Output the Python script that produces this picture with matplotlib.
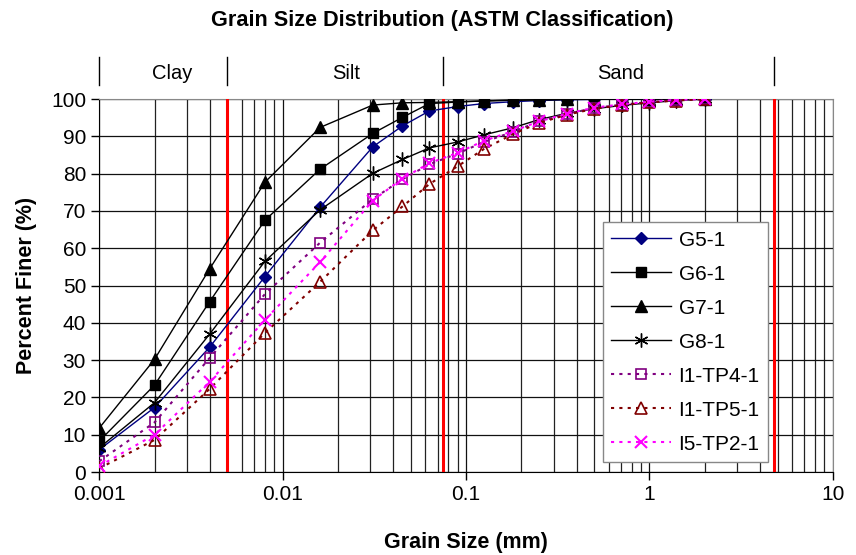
import matplotlib
matplotlib.use("Agg")
import matplotlib.pyplot as plt
from matplotlib.ticker import FixedLocator, LogLocator, NullFormatter
import matplotlib.transforms as mtransforms

plt.rcParams['font.family'] = ['Liberation Sans', 'DejaVu Sans']

# Grain sizes (mm)
sizes = [0.001, 0.002, 0.004, 0.008, 0.016, 0.031, 0.045, 0.063, 0.09,
         0.125, 0.18, 0.25, 0.355, 0.5, 0.71, 1.0, 1.4, 2.0]

# Percent finer for each sample
g5_1 = [6.0, 17.3, 33.5, 52.4, 71.0, 87.2, 92.8, 96.8, 98.0,
        98.8, 99.3, 99.6, 99.8, 99.9, 100, 100, 100, 100]
g6_1 = [8.3, 23.3, 45.7, 67.5, 81.2, 90.8, 95.1, 98.8, 99.2,
        99.5, 99.7, 99.8, 99.9, 100, 100, 100, 100, 100]
g7_1 = [11.8, 30.2, 54.5, 77.7, 92.4, 98.4, 99.0, 99.1, 99.3,
        99.5, 99.7, 99.8, 99.9, 100, 100, 100, 100, 100]
g8_1 = [6.5, 18.6, 37.0, 56.5, 70.3, 80.1, 83.8, 86.9, 88.5,
        90.4, 92.3, 94.5, 96.2, 97.4, 98.3, 99.0, 99.6, 100]
i1_tp4_1 = [2.9, 13.3, 30.6, 47.7, 61.5, 73.2, 78.5, 82.5, 85.4,
            88.5, 91.2, 94.0, 96.0, 97.6, 98.5, 99.2, 99.7, 100]
i1_tp5_1 = [1.0, 8.6, 22.3, 37.3, 51.0, 64.8, 71.2, 77.2, 82.0,
            86.6, 90.6, 93.6, 95.8, 97.4, 98.4, 99.1, 99.6, 100]
i5_tp2_1 = [1.6, 10.0, 24.2, 40.8, 56.3, 72.8, 78.7, 82.8, 85.6,
            88.8, 91.4, 94.0, 96.1, 97.7, 98.6, 99.3, 99.8, 100]

# ASTM class boundaries (mm) and class labels
boundaries = [0.005, 0.075, 4.75]
zone_edges = [0.001, 0.005, 0.075, 4.75]
zone_names = ["Clay", "Silt", "Sand"]
zone_label_x = [0.0025, 0.0222, 0.70]

fig = plt.figure(figsize=(8.56, 5.55), dpi=100)
ax = fig.add_axes([0.116, 0.1495, 0.857, 0.672])

ax.plot(sizes, g5_1, color="#000080", lw=1.0, marker="D", ms=6,
        mfc="#000080", mec="#000080", label="G5-1", zorder=5)
ax.plot(sizes, g6_1, color="black", lw=1.0, marker="s", ms=7,
        label="G6-1", zorder=5)
ax.plot(sizes, g7_1, color="black", lw=1.0, marker="^", ms=9,
        label="G7-1", zorder=5)
ax.plot(sizes, g8_1, color="black", lw=1.0, marker=(6, 2, 0), ms=10,
        mew=1.0, label="G8-1", zorder=5)
ax.plot(sizes, i1_tp4_1, color="#800080", lw=1.5, ls=(0, (1.5, 2.5)),
        marker="s", ms=7, mfc="none", mec="#800080", mew=1.2,
        label="I1-TP4-1", zorder=5)
ax.plot(sizes, i1_tp5_1, color="#800000", lw=1.5, ls=(0, (1.5, 2.5)),
        marker="^", ms=9, mfc="none", mec="#800000", mew=1.2,
        label="I1-TP5-1", zorder=5)
ax.plot(sizes, i5_tp2_1, color="#FF00FF", lw=1.5, ls=(0, (1.5, 2.5)),
        marker="x", ms=9, mew=1.5, label="I5-TP2-1", zorder=5)

# boundary lines
for b in boundaries:
    ax.axvline(b, color="red", lw=2.2, zorder=4)

ax.set_xscale("log")
ax.set_xlim(0.001, 10)
ax.set_ylim(0, 100)
ax.set_yticks(range(0, 101, 10))
ax.xaxis.set_major_locator(FixedLocator([0.001, 0.01, 0.1, 1, 10]))
ax.set_xticklabels(["0.001", "0.01", "0.1", "1", "10"])
ax.xaxis.set_minor_locator(LogLocator(base=10, subs=range(2, 10)))
ax.xaxis.set_minor_formatter(NullFormatter())
ax.tick_params(axis="both", which="major", labelsize=15, length=6,
               direction="out", width=1)
ax.tick_params(axis="x", which="minor", length=0)

ax.grid(True, which="major", axis="both", color="#111111", lw=0.9)
ax.grid(True, which="minor", axis="x", color="#222222", lw=0.9)
ax.set_axisbelow(True)

for side in ["top", "right"]:
    ax.spines[side].set_color("#888888")
for side in ["left", "bottom"]:
    ax.spines[side].set_color("black")

ax.set_xlabel("Grain Size (mm)", fontsize=15.5, fontweight="bold", labelpad=20)
ax.set_ylabel("Percent Finer (%)", fontsize=15.5, fontweight="bold", labelpad=10)
fig.suptitle("Grain Size Distribution (ASTM Classification)", x=0.517, y=0.982,
             fontsize=15.6, fontweight="bold")

# class bands above the plot
trans = mtransforms.blended_transform_factory(ax.transData, ax.transAxes)
for e in zone_edges:
    ax.plot([e, e], [1.038, 1.113], color="black", lw=1.0,
            transform=trans, clip_on=False)
for name, xpos in zip(zone_names, zone_label_x):
    ax.text(xpos, 1.068, name, transform=trans, ha="center", va="center",
            fontsize=14.5)

leg = ax.legend(loc="lower left", bbox_to_anchor=(0.686, 0.027),
                fontsize=15, handlelength=2.9, labelspacing=0.72,
                borderpad=0.4, handletextpad=0.35, fancybox=False,
                framealpha=1, edgecolor="#888888", borderaxespad=0)
leg.get_frame().set_linewidth(1.0)

fig.savefig("out.png", dpi=100)
